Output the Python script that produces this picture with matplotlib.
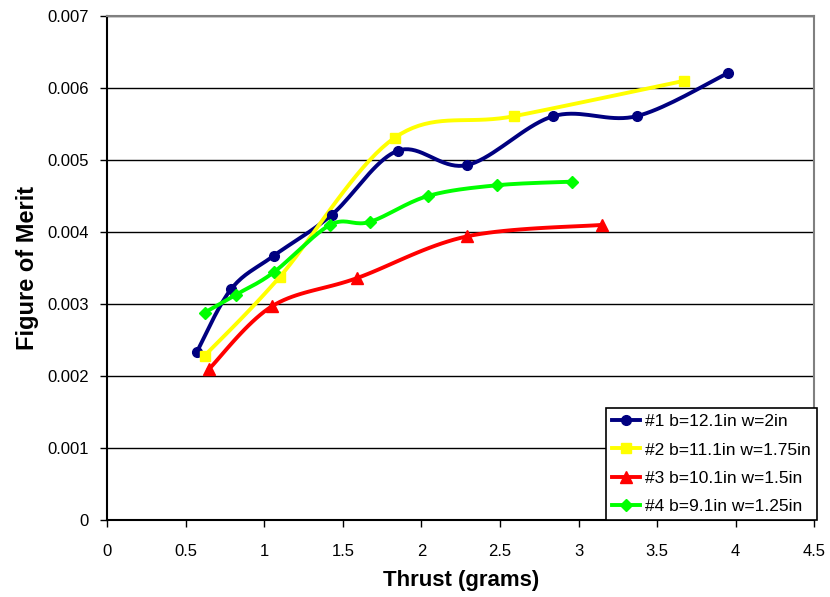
import numpy as np
import matplotlib.pyplot as plt

plt.rcParams['font.family'] = ['Liberation Sans', 'DejaVu Sans']

# data
labels = ["#1 b=12.1in w=2in", "#2 b=11.1in w=1.75in",
          "#3 b=10.1in w=1.5in", "#4 b=9.1in w=1.25in"]
x1 = [0.57, 0.79, 1.06, 1.43, 1.85, 2.29, 2.84, 3.37, 3.95]
y1 = [0.00233, 0.00321, 0.00367, 0.00424, 0.00513, 0.00493, 0.00561, 0.00561, 0.00621]
x2 = [0.62, 1.10, 1.83, 2.59, 3.67]
y2 = [0.00228, 0.00338, 0.00531, 0.00561, 0.00610]
x3 = [0.65, 1.05, 1.59, 2.29, 3.15]
y3 = [0.00210, 0.00297, 0.00336, 0.00394, 0.00410]
x4 = [0.62, 0.82, 1.06, 1.42, 1.67, 2.04, 2.48, 2.96]
y4 = [0.00288, 0.00313, 0.00344, 0.00410, 0.00414, 0.00450, 0.00465, 0.00470]

series = [(x1, y1), (x2, y2), (x3, y3), (x4, y4)]
colors = ['#000080', '#FFFF00', '#FF0000', '#00FF00']
markers = ['o', 's', '^', 'D']
msizes = [7, 7.5, 8, 6.5]


def smooth(xs, ys, n=20):
    # Excel-style smoothed line (Catmull-Rom through the points)
    p = np.column_stack([xs, ys])
    p = np.vstack([p[0], p, p[-1]])
    out = []
    for i in range(1, len(p) - 2):
        p0, p1, p2, p3 = p[i - 1], p[i], p[i + 1], p[i + 2]
        c1 = p1 + (p2 - p0) / 6
        c2 = p2 - (p3 - p1) / 6
        t = np.linspace(0, 1, n)[:, None]
        seg = ((1 - t) ** 3) * p1 + 3 * ((1 - t) ** 2) * t * c1 + 3 * (1 - t) * t ** 2 * c2 + t ** 3 * p2
        out.append(seg)
    s = np.vstack(out)
    return s[:, 0], s[:, 1]


fig = plt.figure(figsize=(8.3, 5.97), dpi=100)
ax = fig.add_axes([0.129, 0.129, 0.852, 0.844])

for (xs, ys), c, m, ms, lab in zip(series, colors, markers, msizes, labels):
    sx, sy = smooth(xs, ys)
    ax.plot(sx, sy, color=c, lw=2.8, zorder=3)
    ax.plot(xs, ys, linestyle='none', marker=m, color=c, ms=ms, zorder=4)
    ax.plot([], [], color=c, lw=2.8, marker=m, ms=ms, label=lab)

ax.set_xlim(0, 4.5)
ax.set_ylim(0, 0.007)
ax.set_xticks(np.arange(0, 4.51, 0.5))
ax.set_xticklabels(['0', '0.5', '1', '1.5', '2', '2.5', '3', '3.5', '4', '4.5'])
ax.set_yticks(np.arange(0, 0.0071, 0.001))
ax.set_yticklabels(['0', '0.001', '0.002', '0.003', '0.004', '0.005', '0.006', '0.007'])
ax.tick_params(labelsize=12, direction='out', length=5, width=1)
ax.tick_params(axis='x', pad=12)
ax.tick_params(axis='y', pad=8)
ax.yaxis.grid(True, color='black', lw=1)
ax.set_axisbelow(True)

for s in ['top', 'right']:
    ax.spines[s].set_color('#808080')
    ax.spines[s].set_linewidth(1.5)
for s in ['left', 'bottom']:
    ax.spines[s].set_color('black')
    ax.spines[s].set_linewidth(1.5)

ax.set_xlabel('Thrust (grams)', fontsize=16, fontweight='bold', labelpad=8)
ax.set_ylabel('Figure of Merit', fontsize=17, fontweight='bold', labelpad=6)

leg = ax.legend(loc='lower right', bbox_to_anchor=(1.004, 0), fontsize=12.5,
                frameon=True, fancybox=False, edgecolor='black', framealpha=1,
                borderaxespad=0, handlelength=1.6, handletextpad=0.3,
                labelspacing=0.75, borderpad=0.35)
leg.get_frame().set_linewidth(1.2)

plt.savefig('out.png', dpi=100)
